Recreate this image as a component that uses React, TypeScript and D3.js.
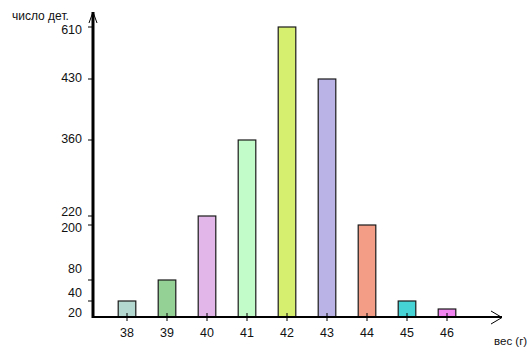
import React from "react";
import * as d3 from "d3";

const categories = ["38", "39", "40", "41", "42", "43", "44", "45", "46"];
const counts = [40, 80, 220, 360, 610, 430, 200, 40, 20];
const colors = ["#b2d8cf", "#93d194", "#e3b6e9", "#c2fcc9", "#d6ef6e", "#b9b3e6", "#f39c86", "#45d3d6", "#f184f0"];
const yTickValues = [610, 430, 360, 220, 200, 80, 40, 20];
const yTickMarks = [610, 430, 360, 220, 200, 80, 40];

// hand-drawn (non-uniform) value axis of the original
const yBreaks = [0, 20, 40, 80, 200, 220, 360, 430, 610];
const yPixels = [317, 309, 301, 280, 225, 216, 140, 79, 27];
// label nudges to keep crowded labels apart (as in the original)
const labelShift: Record<number, number> = { 610: 3, 430: -1, 360: -1, 220: -4, 200: 3, 80: -11, 40: -8, 20: 4 };

const W = 530;
const H = 357;
const axisX = 93;
const baseY = 317;

export default function App() {
  const x = d3.scaleBand<string>().domain(categories).range([107, 467]).paddingInner(0.56).paddingOuter(0.28);
  const y = d3.scaleLinear().domain(yBreaks).range(yPixels);
  const font = "'Liberation Sans', Arial, sans-serif";
  return (
    <svg width={W} height={H} style={{ position: "absolute", left: 0, top: 0, background: "#fff" }} fontFamily={font}>
      {categories.map((c, i) => (
        <rect
          key={c}
          x={x(c)!}
          y={y(counts[i])}
          width={x.bandwidth()}
          height={baseY - y(counts[i])}
          fill={colors[i]}
          stroke="#1a1a1a"
          strokeWidth={1.2}
        />
      ))}
      {/* y axis */}
      <line x1={axisX} y1={12} x2={axisX} y2={baseY + 1} stroke="#000" strokeWidth={3} />
      <polyline points={`${axisX - 4},23 ${axisX},12 ${axisX + 4},23`} fill="none" stroke="#000" strokeWidth={1} />
      {/* x axis */}
      <line x1={axisX - 1} y1={baseY} x2={502} y2={baseY} stroke="#000" strokeWidth={2} />
      <polyline points={`491,311 502,317.5 491,324`} fill="none" stroke="#000" strokeWidth={1} />
      {yTickMarks.map((v) => (
        <line key={v} x1={88} x2={axisX} y1={y(v)} y2={y(v)} stroke="#000" strokeWidth={1} />
      ))}
      {yTickValues.map((v) => (
        <text key={v} x={82} y={y(v) + labelShift[v]} dy="0.35em" textAnchor="end" fontSize={12.5} fill="#111">
          {v}
        </text>
      ))}
      {categories.map((c) => (
        <g key={c}>
          <line x1={x(c)! + x.bandwidth() / 2} x2={x(c)! + x.bandwidth() / 2} y1={313} y2={321} stroke="#000" strokeWidth={1} />
          <text x={x(c)! + x.bandwidth() / 2} y={336.5} textAnchor="middle" fontSize={12.5} fill="#111">
            {c}
          </text>
        </g>
      ))}
      <text x={12} y={20} fontSize={12} fill="#111">число дет.</text>
      <text x={494} y={345} fontSize={11.5} fill="#111">вес (г)</text>
    </svg>
  );
}
